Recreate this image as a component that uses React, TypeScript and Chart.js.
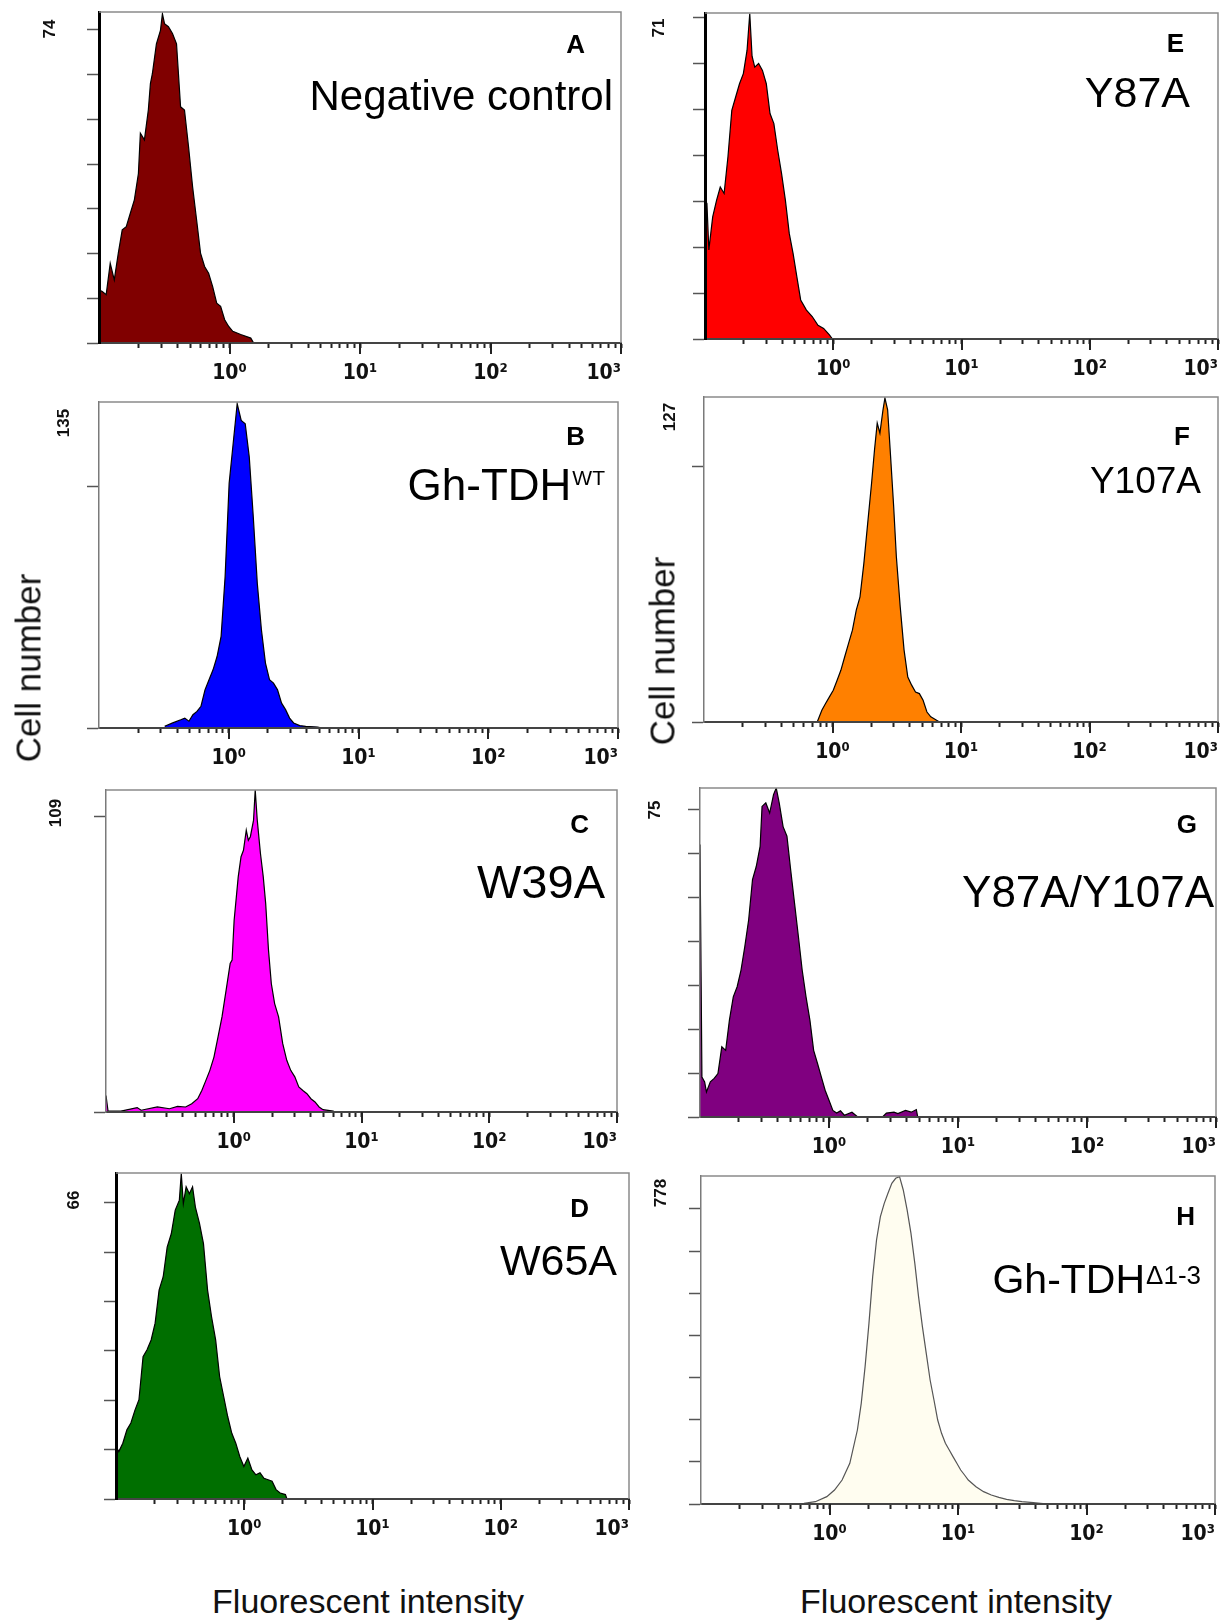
import React, { useEffect, useRef } from "react";
import { Chart, registerables } from "chart.js";

Chart.register(...registerables);

// ---------------- DATA ----------------
// x values are log10(fluorescent intensity), y values are cell counts

const A_logFL = [-1.0, -0.975, -0.945, -0.914, -0.883, -0.852, -0.822, -0.791, -0.76, -0.729, -0.698, -0.683, -0.652, -0.622, -0.606, -0.591, -0.56, -0.529, -0.514, -0.498, -0.468, -0.437, -0.406, -0.375, -0.345, -0.314, -0.283, -0.252, -0.222, -0.191, -0.16, -0.129, -0.098, -0.068, -0.037, -0.006, 0.025, 0.086, 0.163, 0.185];
const A_count = [11.9, 11.5, 10.8, 17.8, 14.1, 20.1, 25.3, 26.0, 29.0, 32.0, 37.9, 46.9, 45.4, 52.1, 58.0, 60.2, 66.9, 69.9, 73.6, 71.4, 70.7, 69.2, 66.9, 52.8, 52.1, 43.9, 35.0, 27.5, 20.1, 17.1, 15.6, 12.6, 8.9, 8.2, 5.2, 3.7, 2.6, 1.9, 1.1, 0];

const B_logFL = [-0.494, -0.432, -0.37, -0.339, -0.307, -0.276, -0.245, -0.214, -0.183, -0.152, -0.121, -0.09, -0.059, -0.028, 0.003, 0.034, 0.065, 0.096, 0.127, 0.158, 0.189, 0.22, 0.252, 0.283, 0.314, 0.345, 0.376, 0.407, 0.438, 0.469, 0.5, 0.547, 0.593, 0.686, 0.717];
const B_count = [0.7, 2.1, 3.4, 4.1, 2.8, 5.5, 6.9, 9.0, 15.8, 20.0, 24.1, 29.6, 37.9, 62.7, 101.3, 117.8, 134.3, 127.4, 126.0, 112.3, 87.5, 59.9, 40.6, 26.9, 20.0, 18.6, 15.8, 10.3, 7.6, 4.1, 2.1, 1.0, 0.7, 0.4, 0];

const C_logFL = [-1.0, -0.984, -0.883, -0.756, -0.725, -0.598, -0.503, -0.44, -0.377, -0.329, -0.282, -0.25, -0.218, -0.187, -0.155, -0.123, -0.092, -0.06, -0.028, -0.013, 0.003, 0.035, 0.057, 0.076, 0.098, 0.114, 0.13, 0.155, 0.168, 0.184, 0.209, 0.231, 0.25, 0.272, 0.294, 0.32, 0.351, 0.383, 0.415, 0.446, 0.478, 0.509, 0.541, 0.573, 0.604, 0.636, 0.668, 0.699, 0.778, 0.794];
const C_count = [5.6, 0.3, 0.3, 1.5, 0.6, 1.7, 1.1, 1.9, 1.7, 2.8, 4.5, 7.3, 10.7, 14.1, 18.6, 25.4, 32.2, 41.2, 50.3, 51.4, 64.9, 79.6, 86.4, 88.6, 95.4, 92.0, 93.2, 98.8, 109, 98.8, 87.5, 79.6, 70.6, 54.8, 43.5, 36.7, 32.2, 23.2, 17.5, 14.1, 11.9, 8.5, 7.3, 6.2, 4.5, 3.4, 1.7, 0.8, 0.3, 0];

const D_logFL = [-1.0, -0.978, -0.947, -0.915, -0.884, -0.852, -0.821, -0.789, -0.758, -0.726, -0.695, -0.664, -0.632, -0.601, -0.569, -0.538, -0.506, -0.491, -0.475, -0.453, -0.428, -0.403, -0.381, -0.349, -0.318, -0.286, -0.255, -0.223, -0.192, -0.16, -0.129, -0.097, -0.066, -0.035, -0.003, 0.028, 0.06, 0.091, 0.123, 0.154, 0.186, 0.217, 0.248, 0.28, 0.321, 0.333];
const D_count = [10.6, 9.6, 11.3, 14.0, 15.4, 18.0, 20.1, 28.8, 30.2, 32.2, 35.6, 42.3, 45.0, 51.0, 53.7, 58.5, 60.5, 65.9, 59.8, 63.2, 61.8, 63.2, 59.1, 55.8, 51.7, 42.3, 36.9, 32.2, 24.8, 20.7, 16.7, 13.3, 11.3, 8.6, 6.6, 8.3, 5.9, 4.9, 5.3, 4.2, 3.9, 3.6, 1.9, 1.2, 0.9, 0];

const E_logFL = [-1.0, -0.985, -0.97, -0.955, -0.94, -0.91, -0.881, -0.851, -0.821, -0.791, -0.761, -0.731, -0.701, -0.672, -0.651, -0.633, -0.612, -0.582, -0.552, -0.522, -0.493, -0.463, -0.433, -0.403, -0.373, -0.343, -0.313, -0.284, -0.254, -0.209, -0.164, -0.119, -0.075, -0.03, -0.006];
const E_count = [30.2, 29.5, 19.4, 23.0, 26.6, 30.2, 33.1, 31.7, 39.7, 49.8, 52.7, 55.6, 57.8, 62.9, 70.9, 61.6, 59.2, 60.0, 58.5, 55.6, 49.1, 46.9, 41.1, 36.0, 30.2, 23.0, 18.6, 13.6, 8.5, 6.3, 4.9, 3.0, 2.3, 0.9, 0];

const F_logFL = [-0.119, -0.083, -0.054, -0.024, 0.006, 0.036, 0.065, 0.095, 0.125, 0.155, 0.185, 0.214, 0.244, 0.274, 0.304, 0.327, 0.348, 0.369, 0.393, 0.408, 0.429, 0.452, 0.476, 0.497, 0.527, 0.557, 0.586, 0.616, 0.646, 0.676, 0.705, 0.735, 0.765, 0.81, 0.833];
const F_count = [0, 4.6, 7.2, 9.8, 12.4, 16.3, 20.2, 25.5, 30.7, 35.9, 43.7, 48.9, 62.0, 77.7, 93.3, 106.4, 116.8, 112.9, 122.0, 126.6, 122.0, 103.8, 84.2, 64.6, 45.0, 28.1, 17.6, 14.4, 11.7, 11.1, 8.5, 3.9, 2.0, 0.7, 0];

const G_logFL = [-1.0, -0.985, -0.964, -0.95, -0.92, -0.89, -0.861, -0.831, -0.801, -0.772, -0.742, -0.712, -0.682, -0.653, -0.623, -0.593, -0.564, -0.534, -0.519, -0.49, -0.46, -0.43, -0.409, -0.386, -0.356, -0.326, -0.297, -0.267, -0.237, -0.208, -0.178, -0.148, -0.119, -0.089, -0.059, -0.03, 0.0, 0.03, 0.059, 0.089, 0.119, 0.178, 0.223, 0.415, 0.445, 0.504, 0.534, 0.593, 0.638, 0.677, 0.688];
const G_count = [62.1, 9.1, 8.0, 5.7, 8.0, 8.8, 9.9, 16.0, 15.2, 22.1, 27.4, 29.7, 33.5, 38.8, 44.9, 54.1, 57.1, 61.7, 70.8, 71.6, 69.3, 73.5, 75, 71.6, 66.2, 64.0, 56.3, 48.7, 41.1, 33.5, 27.4, 22.1, 15.2, 12.2, 9.1, 6.1, 3.8, 1.5, 0.9, 1.4, 0.4, 1.1, 0, 0, 0.9, 1.1, 0.8, 1.5, 1.1, 1.7, 0];

const H_logFL = [-0.199, -0.11, -0.021, 0.039, 0.098, 0.158, 0.217, 0.247, 0.277, 0.307, 0.336, 0.366, 0.396, 0.426, 0.455, 0.485, 0.515, 0.545, 0.574, 0.604, 0.634, 0.664, 0.693, 0.723, 0.753, 0.783, 0.813, 0.842, 0.872, 0.902, 0.932, 0.961, 0.991, 1.021, 1.051, 1.08, 1.14, 1.199, 1.259, 1.318, 1.378, 1.438, 1.497, 1.586, 1.661, 1.676];
const H_count = [1.6, 5.5, 17.4, 33.2, 56.9, 96.5, 175.5, 238.8, 325.7, 428.5, 539.2, 626.2, 681.5, 713.2, 736.9, 760.6, 772.5, 776.4, 744.8, 697.4, 642.0, 570.9, 491.8, 420.6, 357.4, 294.1, 246.7, 199.2, 167.6, 143.9, 128.1, 112.3, 96.5, 80.6, 68.8, 56.9, 41.1, 29.3, 21.3, 15.8, 11.1, 7.9, 5.5, 3.2, 0.8, 0];

const PANEL_LETTERS = ["A", "B", "C", "D", "E", "F", "G", "H"];
const PANEL_TITLES = ["Negative control", "Gh-TDH", "W39A", "W65A", "Y87A", "Y107A", "Y87A/Y107A", "Gh-TDH"];
const TITLE_SUPS = ["", "WT", "", "", "", "", "", "Δ1-3"];
const Y_MAX = [74, 135, 109, 66, 71, 127, 75, 778];
const Y_STEP = [10, 100, 100, 10, 10, 100, 10, 100];
const X_MAJOR_VALUES = [1, 10, 100, 1000];
const X_TICK_LABELS = ["10⁰", "10¹", "10²", "10³"];
const FL_LOG = [A_logFL, B_logFL, C_logFL, D_logFL, E_logFL, F_logFL, G_logFL, H_logFL];
const COUNTS = [A_count, B_count, C_count, D_count, E_count, F_count, G_count, H_count];

// ---------------- LAYOUT / STYLE ----------------
const FONT = '"Liberation Sans", Arial, Helvetica, sans-serif';
const TICK_FONT = '"DejaVu Sans Condensed", "Liberation Sans", Arial, sans-serif';
const AX_W = 70;
const AX_H = 50;
const PAD_T = 10;
const PAD_R = 16;

const LAYOUT = [
  { L: 99, R: 621, T: 12, B: 343, strong: true, maxLabel: [50, 29], letter: [585, 53], title: [613, 110], ts: 42, ss: 0, sb: 0, fill: "#800000", stroke: "#000" },
  { L: 99, R: 618, T: 402, B: 728, strong: false, maxLabel: [64, 423], letter: [585, 445], title: [605, 500], ts: 44, ss: 21, sb: 485, fill: "#0000ff", stroke: "#000" },
  { L: 106, R: 617, T: 790, B: 1112, strong: false, maxLabel: [56, 813], letter: [589, 833], title: [605, 898], ts: 47, ss: 0, sb: 0, fill: "#ff00ff", stroke: "#000" },
  { L: 116, R: 629, T: 1173, B: 1499, strong: true, maxLabel: [74, 1200], letter: [589, 1217], title: [617, 1275], ts: 43, ss: 0, sb: 0, fill: "#006f00", stroke: "#000" },
  { L: 705, R: 1218, T: 13, B: 339, strong: true, maxLabel: [659, 28], letter: [1184, 52], title: [1190, 107], ts: 43, ss: 0, sb: 0, fill: "#ff0000", stroke: "#000" },
  { L: 704, R: 1218, T: 397, B: 722, strong: false, maxLabel: [670, 417], letter: [1190, 445], title: [1201, 493], ts: 37, ss: 0, sb: 0, fill: "#ff8000", stroke: "#000" },
  { L: 700, R: 1216, T: 788, B: 1117, strong: false, maxLabel: [655, 810], letter: [1197, 833], title: [1214, 907], ts: 44, ss: 0, sb: 0, fill: "#800080", stroke: "#000" },
  { L: 701, R: 1215, T: 1176, B: 1504, strong: false, maxLabel: [661, 1193], letter: [1195, 1225], title: [1201, 1293], ts: 41, ss: 26, sb: 1284, fill: "#fffdf0", stroke: "#555" },
];

function xTickValues(): number[] {
  const out: number[] = [];
  for (let n = -1; n <= 2; n++) {
    for (let k = 1; k <= 9; k++) {
      if (n === -1 && k === 1) continue;
      out.push(Number((k * Math.pow(10, n)).toPrecision(3)));
    }
  }
  out.push(1000);
  return out;
}

function buildConfig(i: number, cx: number, cy: number): any {
  const lay = LAYOUT[i];
  const points = FL_LOG[i].map((lx, k) => ({ x: Math.pow(10, lx), y: COUNTS[i][k] }));
  const yMax = Y_MAX[i];
  const yStep = Y_STEP[i];

  const panelPlugin = {
    id: "panelDecor" + i,
    afterDraw(chart: any) {
      const { ctx, chartArea: ca, scales } = chart;
      ctx.save();
      // top and right frame
      ctx.strokeStyle = "#8a8a8a";
      ctx.lineWidth = 1.5;
      ctx.beginPath();
      ctx.moveTo(ca.left, ca.top);
      ctx.lineTo(ca.right, ca.top);
      ctx.lineTo(ca.right, ca.bottom);
      ctx.stroke();
      // longer decade ticks
      const xs = scales.x;
      ctx.strokeStyle = "#222";
      ctx.lineWidth = 2;
      for (const v of X_MAJOR_VALUES) {
        const px = Math.round(xs.getPixelForValue(v));
        ctx.beginPath();
        ctx.moveTo(px, ca.bottom);
        ctx.lineTo(px, ca.bottom + 11);
        ctx.stroke();
      }
      // y max label (rotated)
      ctx.fillStyle = "#111";
      ctx.font = `bold 17px ${FONT}`;
      ctx.textAlign = "center";
      ctx.textBaseline = "middle";
      ctx.translate(lay.maxLabel[0] - cx, lay.maxLabel[1] - cy);
      ctx.rotate(-Math.PI / 2);
      ctx.fillText(String(yMax), 0, 0);
      ctx.restore();

      ctx.save();
      ctx.fillStyle = "#000";
      ctx.textBaseline = "alphabetic";
      ctx.textAlign = "right";
      ctx.font = `bold 26px ${FONT}`;
      ctx.fillText(PANEL_LETTERS[i], lay.letter[0] - cx, lay.letter[1] - cy);
      // title with optional superscript
      const title = PANEL_TITLES[i];
      const sup = TITLE_SUPS[i];
      ctx.font = `${lay.ts}px ${FONT}`;
      const mainW = ctx.measureText(title).width;
      let supW = 0;
      if (sup) {
        ctx.font = `${lay.ss}px ${FONT}`;
        supW = ctx.measureText(sup).width + 1;
      }
      const x0 = lay.title[0] - cx - mainW - supW;
      ctx.textAlign = "left";
      ctx.font = `${lay.ts}px ${FONT}`;
      ctx.fillText(title, x0, lay.title[1] - cy);
      if (sup) {
        ctx.font = `${lay.ss}px ${FONT}`;
        ctx.fillText(sup, x0 + mainW + 1, lay.sb - cy);
      }
      ctx.restore();
    },
  };

  return {
    type: "line",
    data: {
      datasets: [
        {
          data: points,
          fill: "origin",
          backgroundColor: lay.fill,
          borderColor: lay.stroke,
          borderWidth: 1.2,
          pointRadius: 0,
          tension: 0,
        },
      ],
    },
    options: {
      animation: false,
      responsive: false,
      maintainAspectRatio: false,
      devicePixelRatio: 1,
      layout: { padding: { left: 0, top: PAD_T, right: PAD_R, bottom: 0 } },
      plugins: {
        legend: { display: false },
        tooltip: { enabled: false },
        title: { display: false },
      },
      scales: {
        x: {
          type: "logarithmic",
          min: 0.1,
          max: 1000,
          afterBuildTicks: (axis: any) => {
            axis.ticks = xTickValues().map((v) => ({ value: v, major: X_MAJOR_VALUES.includes(v) }));
          },
          afterFit: (axis: any) => {
            axis.height = AX_H;
          },
          ticks: {
            autoSkip: false,
            maxRotation: 0,
            minRotation: 0,
            align: "inner",
            padding: 13,
            color: "#111",
            font: { family: TICK_FONT, size: 21, weight: "bold" },
            callback: (value: any) => {
              const k = X_MAJOR_VALUES.indexOf(Number(value));
              return k >= 0 ? X_TICK_LABELS[k] : "";
            },
          },
          grid: {
            drawOnChartArea: false,
            drawTicks: true,
            tickLength: 5,
            tickColor: "#222",
            tickWidth: 2,
          },
          border: { color: "#444", width: 2, z: 1 },
        },
        y: {
          type: "linear",
          min: 0,
          max: yMax,
          afterBuildTicks: (axis: any) => {
            const t: any[] = [];
            for (let v = 0; v <= yMax + 1e-9; v += yStep) t.push({ value: v });
            axis.ticks = t;
          },
          afterFit: (axis: any) => {
            axis.width = AX_W;
          },
          ticks: { display: false },
          grid: {
            drawOnChartArea: false,
            drawTicks: true,
            tickLength: 12,
            tickColor: "#555",
            tickWidth: 1.5,
          },
          border: { color: lay.strong ? "#000" : "#7a7a7a", width: lay.strong ? 3 : 1.5, z: 1 },
        },
      },
    },
    plugins: [panelPlugin],
  };
}

function HistPanel({ idx }: { idx: number }) {
  const ref = useRef<HTMLCanvasElement>(null);
  const lay = LAYOUT[idx];
  const cx = lay.L - AX_W;
  const cy = lay.T - PAD_T;
  const cw = lay.R - lay.L + AX_W + PAD_R;
  const ch = lay.B - lay.T + PAD_T + AX_H;
  useEffect(() => {
    if (!ref.current) return;
    const chart = new Chart(ref.current, buildConfig(idx, cx, cy));
    return () => chart.destroy();
  }, [idx]);
  return (
    <canvas
      ref={ref}
      width={cw}
      height={ch}
      style={{ position: "absolute", left: cx, top: cy, width: cw, height: ch }}
    />
  );
}

const textBase: React.CSSProperties = {
  position: "absolute",
  fontFamily: FONT,
  color: "#111",
  whiteSpace: "nowrap",
  lineHeight: 1,
};

export default function App() {
  return (
    <div
      style={{
        position: "absolute",
        left: 0,
        top: 0,
        width: 1231,
        height: 1622,
        overflow: "hidden",
        background: "#ffffff",
      }}
    >
      {LAYOUT.map((_, i) => (
        <HistPanel key={i} idx={i} />
      ))}
      <div style={{ ...textBase, left: 28, top: 668, fontSize: 35, transform: "translate(-50%, -50%) rotate(-90deg)" }}>
        Cell number
      </div>
      <div style={{ ...textBase, left: 662, top: 651, fontSize: 35, transform: "translate(-50%, -50%) rotate(-90deg)" }}>
        Cell number
      </div>
      <div style={{ ...textBase, left: 368, top: 1601, fontSize: 34, transform: "translate(-50%, -50%)" }}>
        Fluorescent intensity
      </div>
      <div style={{ ...textBase, left: 956, top: 1601, fontSize: 34, transform: "translate(-50%, -50%)" }}>
        Fluorescent intensity
      </div>
    </div>
  );
}
